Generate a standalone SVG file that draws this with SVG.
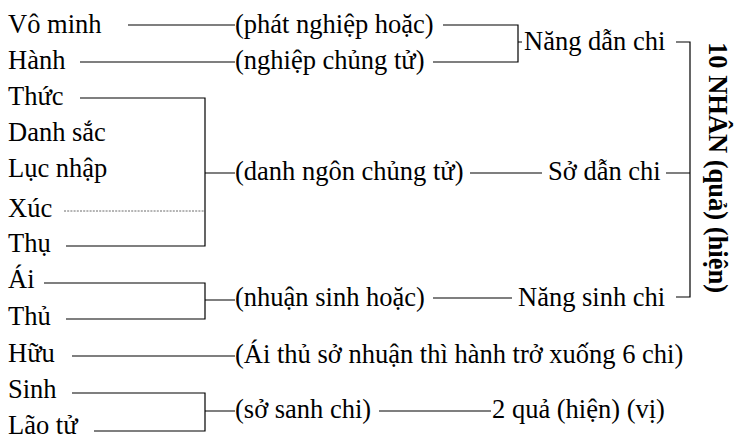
<svg xmlns="http://www.w3.org/2000/svg" width="735" height="438" viewBox="0 0 735 438">
<style>
text{font-family:"Liberation Serif","Times New Roman",serif;font-size:26.5px;fill:#000}
.b{font-weight:bold}
.c{stroke:#000;stroke-width:1.2;fill:none}
.d{stroke:#444;stroke-width:0.8;stroke-dasharray:2 1.2;fill:none}
</style>
<rect width="735" height="438" fill="#fff"/>
<g id="connectors">
<path class="c" d="M128 25H235M80 62H235"/>
<path class="c" d="M443 25H518V62H433M518 42H522"/>
<path class="c" d="M676 42H690V297H676M666 173H690"/>
<path class="c" d="M80 98H205V246H66M205 173H235"/>
<path class="d" d="M64 211H205"/>
<path class="c" d="M470 173H542"/>
<path class="c" d="M44 283H205V319H66M205 300H235"/>
<path class="c" d="M433 298H512"/>
<path class="c" d="M72 356H235"/>
<path class="c" d="M72 393H205V431H94M205 411H235"/>
<path class="c" d="M379 411H491"/>
</g>
<g id="vo-minh"><text x="8" y="33">Vô minh</text></g>
<g id="hanh"><text x="8" y="69">Hành</text></g>
<g id="thuc"><text x="8" y="105">Thức</text></g>
<g id="danh-sac"><text x="8" y="141">Danh sắc</text></g>
<g id="luc-nhap"><text x="8" y="177">Lục nhập</text></g>
<g id="xuc"><text x="8" y="217">Xúc</text></g>
<g id="thu"><text x="8" y="252">Thụ</text></g>
<g id="ai"><text x="8" y="288">Ái</text></g>
<g id="thu2"><text x="8" y="325">Thủ</text></g>
<g id="huu"><text x="8" y="362">Hữu</text></g>
<g id="sinh"><text x="8" y="398">Sinh</text></g>
<g id="lao-tu"><text x="8" y="434">Lão tử</text></g>
<g id="phat-nghiep"><text x="235" y="33">(phát nghiệp hoặc)</text></g>
<g id="nghiep-chung"><text x="235" y="69">(nghiệp chủng tử)</text></g>
<g id="nang-dan"><text x="524" y="50">Năng dẫn chi</text></g>
<g id="danh-ngon"><text x="235" y="180">(danh ngôn chủng tử)</text></g>
<g id="so-dan"><text x="548" y="180">Sở dẫn chi</text></g>
<g id="nhuan-sinh"><text x="235" y="306">(nhuận sinh hoặc)</text></g>
<g id="nang-sinh"><text x="518" y="306">Năng sinh chi</text></g>
<g id="ai-thu"><text x="235" y="363">(Ái thủ sở nhuận thì hành trở xuống 6 chi)</text></g>
<g id="so-sanh"><text x="235" y="418">(sở sanh chi)</text></g>
<g id="qua"><text x="492" y="418">2 quả (hiện) (vị)</text></g>
<g id="muoi-nhan"><text class="b" transform="translate(709 42) rotate(90)">10 NHÂN (quả) (hiện)</text></g>
</svg>
